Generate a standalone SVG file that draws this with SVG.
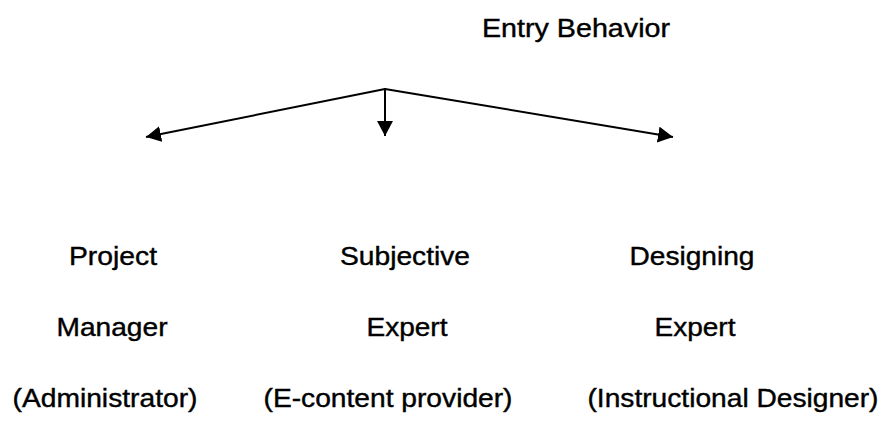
<svg xmlns="http://www.w3.org/2000/svg" width="881" height="428" viewBox="0 0 881 428">
<style>
text{font-family:"Liberation Sans",Arial,sans-serif;font-size:26px;fill:#000;stroke:#000;stroke-width:0.4;text-anchor:middle}
.c{stroke:#000;stroke-width:2;fill:none}
</style>
<defs>
<marker id="ah" markerUnits="userSpaceOnUse" markerWidth="15" markerHeight="16" refX="15" refY="8" orient="auto">
<path d="M0,0 L15,8 L0,16 z" fill="#000"/>
</marker>
</defs>
<rect width="881" height="428" fill="#fff"/>
<g id="entry"><text x="576" y="37" textLength="188" lengthAdjust="spacingAndGlyphs">Entry Behavior</text></g>
<g id="connectors">
<line class="c" x1="385" y1="89" x2="146" y2="137" marker-end="url(#ah)"/>
<line class="c" x1="385" y1="88" x2="385" y2="136" marker-end="url(#ah)"/>
<line class="c" x1="385" y1="89" x2="673" y2="137" marker-end="url(#ah)"/>
</g>
<g id="pm">
<text x="113" y="265" textLength="88" lengthAdjust="spacingAndGlyphs">Project</text>
<text x="112" y="336" textLength="111" lengthAdjust="spacingAndGlyphs">Manager</text>
<text x="105" y="407" textLength="185" lengthAdjust="spacingAndGlyphs">(Administrator)</text>
</g>
<g id="se">
<text x="405" y="265" textLength="130" lengthAdjust="spacingAndGlyphs">Subjective</text>
<text x="407" y="336" textLength="81" lengthAdjust="spacingAndGlyphs">Expert</text>
<text x="388" y="407" textLength="249" lengthAdjust="spacingAndGlyphs">(E-content provider)</text>
</g>
<g id="de">
<text x="692" y="265" textLength="125" lengthAdjust="spacingAndGlyphs">Designing</text>
<text x="695" y="336" textLength="81" lengthAdjust="spacingAndGlyphs">Expert</text>
<text x="733" y="407" textLength="291" lengthAdjust="spacingAndGlyphs">(Instructional Designer)</text>
</g>
</svg>
